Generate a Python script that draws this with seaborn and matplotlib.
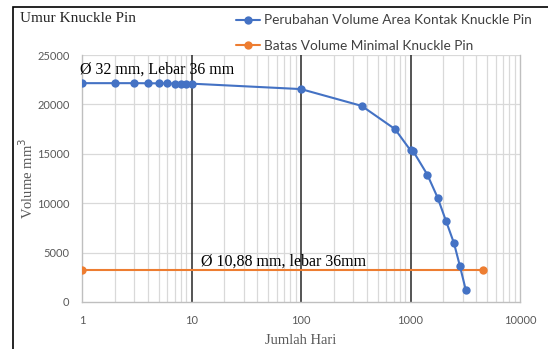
import numpy as np
import pandas as pd
import matplotlib
matplotlib.use("Agg")
import matplotlib.pyplot as plt
import seaborn as sns
from matplotlib.ticker import FixedLocator, NullFormatter
from matplotlib.patches import Rectangle

# data
hari = [1, 2, 3, 4, 5, 6, 7, 8, 9, 10, 100, 358, 722, 1000, 1060, 1423, 1771, 2110, 2496, 2832, 3193]
volume = [22150, 22150, 22150, 22140, 22130, 22120, 22110, 22100, 22100, 22100, 21550,
          19850, 17500, 15350, 15250, 12900, 10550, 8200, 5950, 3600, 1250]
batas_hari = [1, 4560]
batas_volume = [3250, 3250]

x_ticks = [1, 10, 100, 1000, 10000]
y_ticks = [0, 5000, 10000, 15000, 20000, 25000]

sns.set_style("white")
serif = ["Liberation Serif", "DejaVu Serif"]
sans = ["Lato", "DejaVu Sans"]
grey = "#595959"
blue = "#4472C4"
orange = "#ED7D31"

fig = plt.figure(figsize=(5.48, 3.49), dpi=100)
ax = fig.add_axes([82 / 548, 1 - 302 / 349, 438 / 548, 247 / 349])

df_a = pd.DataFrame({"hari": hari, "volume": volume})
df_b = pd.DataFrame({"hari": batas_hari, "volume": batas_volume})

sns.lineplot(data=df_a, x="hari", y="volume", ax=ax, color=blue, lw=1.5, marker="o",
             markersize=6, markeredgewidth=0, label="Perubahan Volume Area Kontak Knuckle Pin", zorder=5)
sns.lineplot(data=df_b, x="hari", y="volume", ax=ax, color=orange, lw=1.5, marker="o",
             markersize=6, markeredgewidth=0, label="Batas Volume Minimal Knuckle Pin", zorder=4)

ax.set_xscale("log")
ax.set_xlim(1, 10000)
ax.set_ylim(0, 25000)

# grid: light minor lines, dark decade lines
minor = [m * 10 ** d for d in range(4) for m in range(2, 10)]
for v in minor:
    ax.axvline(v, color="#d9d9d9", lw=0.9, zorder=0)
for v in [10, 100, 1000]:
    ax.axvline(v, color="#262626", lw=1.1, zorder=1)
for v in y_ticks[1:]:
    ax.axhline(v, color="#d9d9d9", lw=0.9, zorder=0)

ax.xaxis.set_major_locator(FixedLocator(x_ticks))
ax.xaxis.set_minor_locator(FixedLocator(minor))
ax.xaxis.set_minor_formatter(NullFormatter())
ax.set_xticklabels([str(t) for t in x_ticks])
ax.set_yticks(y_ticks)
ax.set_yticklabels([str(t) for t in y_ticks])
ax.tick_params(axis="both", which="both", length=0, labelsize=8, labelcolor=grey, pad=9)
for lab in ax.get_xticklabels() + ax.get_yticklabels():
    lab.set_family(sans)

ax.spines["top"].set_visible(False)
for s in ["left", "bottom", "right"]:
    ax.spines[s].set_color("#bfbfbf")
    ax.spines[s].set_linewidth(1.0)

ax.set_xlabel("Jumlah Hari", family=serif, fontsize=10.5, color=grey, labelpad=6)
ax.set_ylabel("Volume mm$^3$", family=serif, fontsize=10.5, color=grey)
ax.yaxis.set_label_coords(-0.104, 0.5)

ax.text(0.96, 23550, "Ø 32 mm, Lebar 36 mm", family=serif, fontsize=11.5, color="black",
        ha="left", va="center", zorder=6)
ax.text(12.2, 4050, "Ø 10,88 mm, lebar 36mm", family=serif, fontsize=11.5, color="black",
        ha="left", va="center", zorder=6)

fig.text(20 / 548, 1 - 19 / 349, "Umur Knuckle Pin", family=serif, fontsize=11,
         color="#262626", ha="left", va="center")

leg = ax.legend(loc="upper right", bbox_to_anchor=(537 / 548, 1 - 9 / 349),
                bbox_transform=fig.transFigure, frameon=False, prop={"family": sans, "size": 9.8},
                handlelength=1.8, handletextpad=0.25, labelspacing=1.0, borderaxespad=0)
for t in leg.get_texts():
    t.set_color("#404040")

# chart frame (only left and top edges are inside the picture)
fig.patches.append(Rectangle((13 / 548, -0.05), 1.0, 1.05 - 7 / 349,
                             transform=fig.transFigure, fill=False, ec="black", lw=1.2))

fig.savefig("out.png", dpi=100)
